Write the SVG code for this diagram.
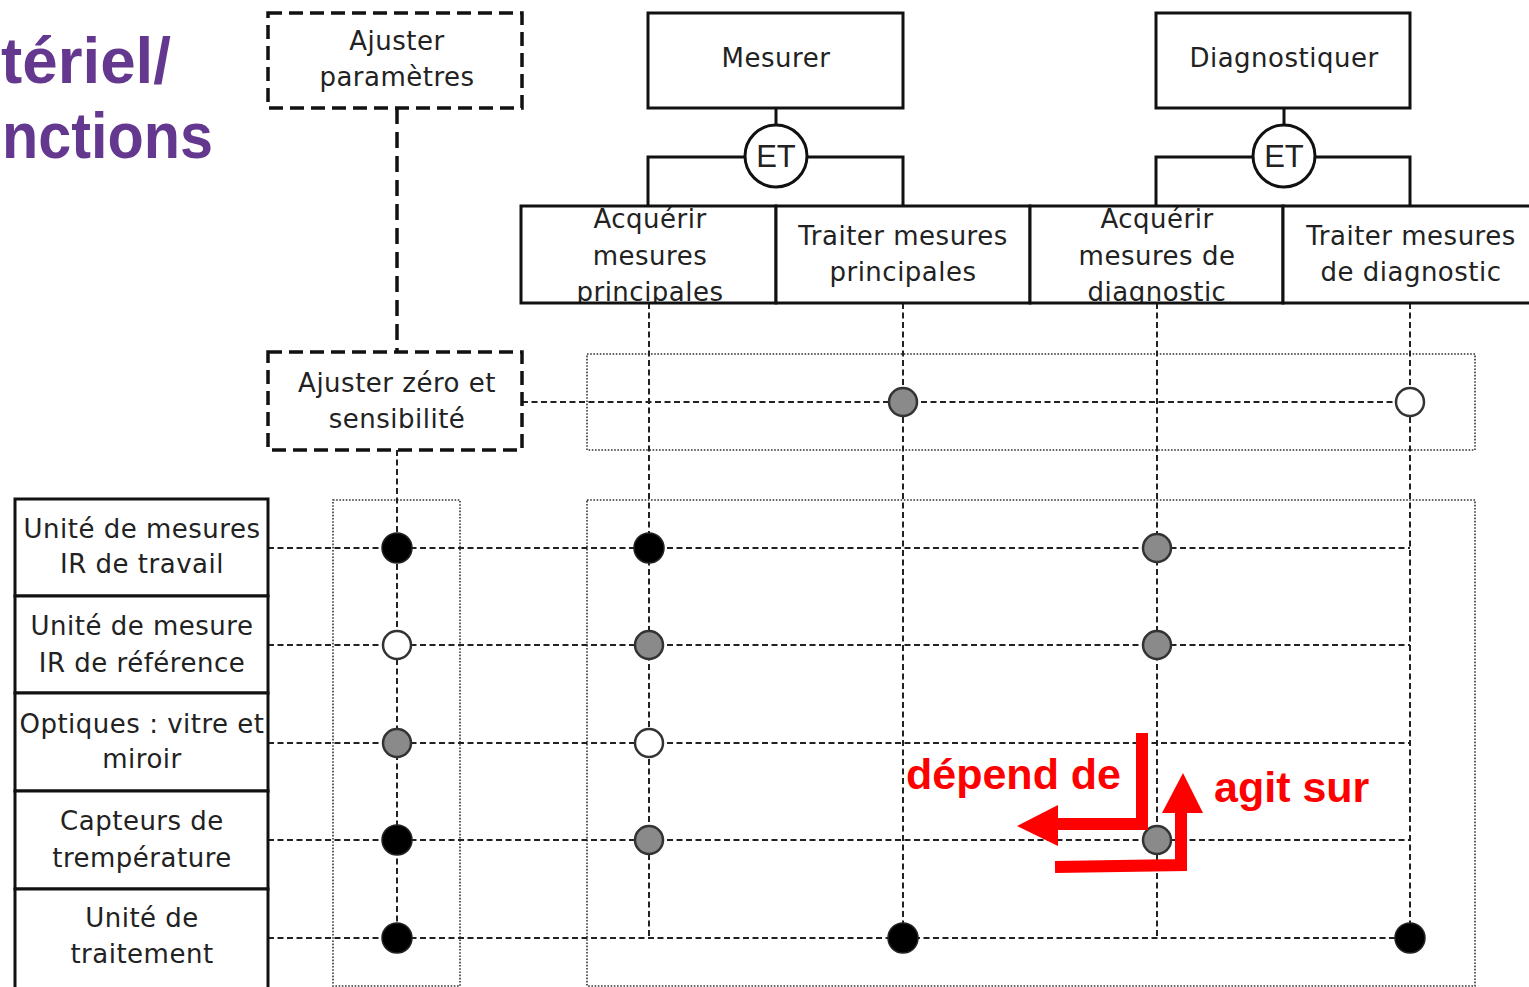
<svg xmlns="http://www.w3.org/2000/svg" width="1529" height="987" viewBox="0 0 1529 987">
<style>
.t{font-family:"DejaVu Sans",Verdana,sans-serif;font-size:26px;letter-spacing:0.5px;fill:#222;text-anchor:middle}
.box{fill:#fff;stroke:#111;stroke-width:3}
.dbox{fill:#fff;stroke:#111;stroke-width:3.5;stroke-dasharray:14 7}
.band{fill:none;stroke:#333;stroke-width:1.6;stroke-dasharray:1.6 1.6}
.grid{fill:none;stroke:#222;stroke-width:2;stroke-dasharray:6 3.5}
.solid{fill:none;stroke:#111;stroke-width:3}
.blk{fill:#000;stroke:#222;stroke-width:1.5}
.gry{fill:#8a8a8a;stroke:#333;stroke-width:2.5}
.wht{fill:#fff;stroke:#333;stroke-width:2.5}
.red{fill:none;stroke:#ff0000;stroke-width:12;stroke-linejoin:miter}
.rt{font-family:"Liberation Sans",Arial,sans-serif;font-weight:bold;font-size:43px;fill:#ff0000}
.tt{font-family:"Liberation Sans",Arial,sans-serif;font-weight:bold;font-size:65px;fill:#65388f}
</style>
<defs>
<clipPath id="row"><rect x="521" y="206" width="1010" height="97"/></clipPath>
</defs>
<rect width="1529" height="987" fill="#fff"/>

<g id="title">
<text class="tt" x="1" y="83" textLength="170" lengthAdjust="spacingAndGlyphs">tériel/</text>
<text class="tt" x="2" y="158" textLength="211" lengthAdjust="spacingAndGlyphs">nctions</text>
</g>

<g id="bands">
<rect class="band" x="587" y="354" width="888" height="96"/>
<rect class="band" x="587" y="500" width="888" height="486"/>
<rect class="band" x="333" y="500" width="127" height="486"/>
</g>

<g id="connectors">
<line x1="397" y1="108" x2="397" y2="352" stroke="#111" stroke-width="3.5" stroke-dasharray="16 8"/>
<path class="solid" d="M776,108V124 M648,206V157H745 M807,157H903V206"/>
<path class="solid" d="M1284,108V124 M1156,206V157H1253 M1315,157H1410V206"/>
<path class="grid" d="M522,402H1410"/>
<path class="grid" d="M268,548H1410 M268,645H1410 M268,743H1410 M268,840H1410 M268,938H1410"/>
<path class="grid" d="M397,450V938 M649,303V938 M903,303V938 M1157,303V938 M1410,303V938"/>
</g>

<g id="node-ajuster-parametres">
<rect class="dbox" x="268" y="13" width="254" height="95"/>
<text class="t" x="397" y="50">Ajuster</text>
<text class="t" x="397" y="86">paramètres</text>
</g>

<g id="node-mesurer">
<rect class="box" x="648" y="13" width="255" height="95"/>
<text class="t" x="776" y="67">Mesurer</text>
</g>
<g id="node-et1">
<circle cx="776" cy="156" r="31" fill="#fff" stroke="#111" stroke-width="3"/>
<text x="776" y="167" font-family="'Liberation Sans',Arial,sans-serif" font-size="31" fill="#222" text-anchor="middle">ET</text>
</g>

<g id="node-diagnostiquer">
<rect class="box" x="1156" y="13" width="254" height="95"/>
<text class="t" x="1284" y="67">Diagnostiquer</text>
</g>
<g id="node-et2">
<circle cx="1284" cy="156" r="31" fill="#fff" stroke="#111" stroke-width="3"/>
<text x="1284" y="167" font-family="'Liberation Sans',Arial,sans-serif" font-size="31" fill="#222" text-anchor="middle">ET</text>
</g>

<g id="node-acquerir-principales">
<rect x="521" y="206" width="255" height="97" fill="#fff"/>
<g clip-path="url(#row)">
<text class="t" x="650" y="228">Acquérir</text>
<text class="t" x="650" y="265">mesures</text>
<text class="t" x="650" y="301">principales</text>
</g>
<rect x="521" y="206" width="255" height="97" fill="none" stroke="#111" stroke-width="3"/>
</g>
<g id="node-traiter-principales">
<rect class="box" x="776" y="206" width="254" height="97"/>
<text class="t" x="903" y="245">Traiter mesures</text>
<text class="t" x="903" y="281">principales</text>
</g>
<g id="node-acquerir-diagnostic">
<rect x="1030" y="206" width="253" height="97" fill="#fff"/>
<g clip-path="url(#row)">
<text class="t" x="1157" y="228">Acquérir</text>
<text class="t" x="1157" y="265">mesures de</text>
<text class="t" x="1157" y="301">diagnostic</text>
</g>
<rect x="1030" y="206" width="253" height="97" fill="none" stroke="#111" stroke-width="3"/>
</g>
<g id="node-traiter-diagnostic">
<rect class="box" x="1283" y="206" width="260" height="97"/>
<text class="t" x="1411" y="245">Traiter mesures</text>
<text class="t" x="1411" y="281">de diagnostic</text>
</g>

<g id="node-ajuster-zero">
<rect class="dbox" x="268" y="352" width="254" height="98"/>
<text class="t" x="397" y="392">Ajuster zéro et</text>
<text class="t" x="397" y="428">sensibilité</text>
</g>

<g id="node-unite-travail">
<rect class="box" x="15" y="499" width="253" height="97"/>
<text class="t" x="142" y="538">Unité de mesures</text>
<text class="t" x="142" y="573">IR de travail</text>
</g>
<g id="node-unite-reference">
<rect class="box" x="15" y="596" width="253" height="97"/>
<text class="t" x="142" y="635">Unité de mesure</text>
<text class="t" x="142" y="672">IR de référence</text>
</g>
<g id="node-optiques">
<rect class="box" x="15" y="693" width="253" height="98"/>
<text class="t" x="142" y="733">Optiques : vitre et</text>
<text class="t" x="142" y="768">miroir</text>
</g>
<g id="node-capteurs">
<rect class="box" x="15" y="791" width="253" height="98"/>
<text class="t" x="142" y="830">Capteurs de</text>
<text class="t" x="142" y="867">trempérature</text>
</g>
<g id="node-traitement">
<rect class="box" x="15" y="889" width="253" height="100"/>
<text class="t" x="142" y="927">Unité de</text>
<text class="t" x="142" y="963">traitement</text>
</g>

<g id="dots">
<circle class="gry" cx="903" cy="402" r="14"/>
<circle class="wht" cx="1410" cy="402" r="14"/>
<circle class="blk" cx="397" cy="548" r="15"/>
<circle class="blk" cx="649" cy="548" r="15"/>
<circle class="gry" cx="1157" cy="548" r="14"/>
<circle class="wht" cx="397" cy="645" r="14"/>
<circle class="gry" cx="649" cy="645" r="14"/>
<circle class="gry" cx="1157" cy="645" r="14"/>
<circle class="gry" cx="397" cy="743" r="14"/>
<circle class="wht" cx="649" cy="743" r="14"/>
<circle class="blk" cx="397" cy="840" r="15"/>
<circle class="gry" cx="649" cy="840" r="14"/>
<circle class="gry" cx="1157" cy="840" r="14"/>
<circle class="blk" cx="397" cy="938" r="15"/>
<circle class="blk" cx="903" cy="938" r="15"/>
<circle class="blk" cx="1410" cy="938" r="15"/>
</g>

<g id="red-arrows">
<path class="red" d="M1142,733V824H1055"/>
<polygon points="1017,826 1058,805 1058,846" fill="#ff0000"/>
<path class="red" d="M1055,867L1181,865V810"/>
<polygon points="1183,773 1162,813 1203,813" fill="#ff0000"/>
<text class="rt" x="906" y="789">dépend de</text>
<text class="rt" x="1214" y="802">agit sur</text>
</g>
</svg>
